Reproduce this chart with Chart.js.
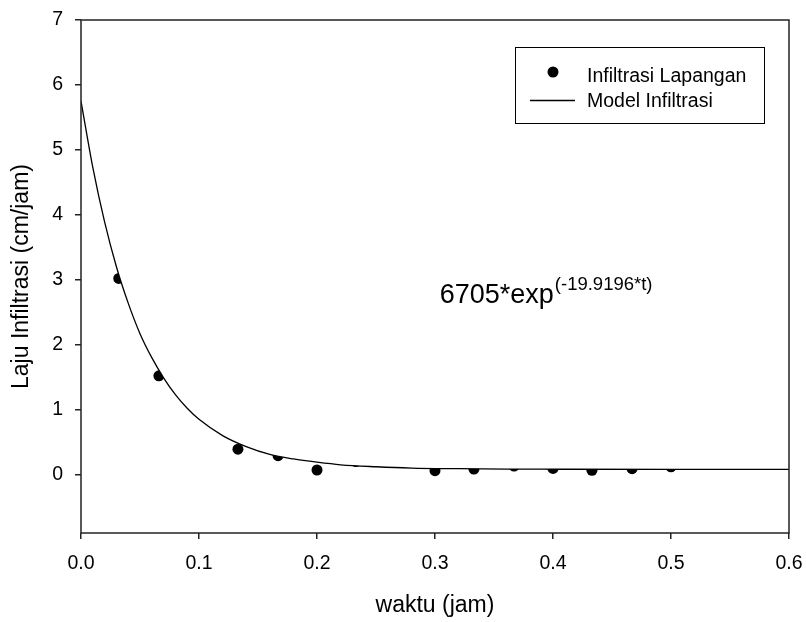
<!DOCTYPE html>
<html>
<head>
<meta charset="utf-8">
<script src="https://cdn.jsdelivr.net/npm/chart.js@4/dist/chart.umd.min.js"></script>
<style>
  html, body { margin: 0; padding: 0; background: #fff; }
  #wrap { width: 806px; height: 622px; }
</style>
</head>
<body>
<div id="wrap"><canvas id="chart" width="806" height="622"></canvas></div>
<script>
// measured field infiltration (waktu in jam, laju in cm/jam)
var fieldTime = [0.032, 0.066, 0.133, 0.167, 0.2, 0.233, 0.3, 0.333, 0.367, 0.4, 0.433, 0.467, 0.5];
var fieldRate = [3.02, 1.52, 0.39, 0.29, 0.07, 0.2, 0.06, 0.085, 0.13, 0.095, 0.065, 0.09, 0.12];

// model curve
var modelTime = [0, 0.01, 0.02, 0.03, 0.04, 0.05, 0.06, 0.07, 0.08, 0.09, 0.1, 0.12, 0.14, 0.16, 0.18, 0.2, 0.22, 0.25, 0.28, 0.32, 0.36, 0.4, 0.5, 0.6];
var modelRate = [5.75, 4.73, 3.89, 3.2, 2.64, 2.17, 1.8, 1.49, 1.23, 1.02, 0.85, 0.6, 0.43, 0.31, 0.24, 0.19, 0.15, 0.12, 0.1, 0.09, 0.084, 0.082, 0.08, 0.08];

var xTicks = [0, 0.1, 0.2, 0.3, 0.4, 0.5, 0.6];
var yTicks = [0, 1, 2, 3, 4, 5, 6, 7];

var labels = ['Infiltrasi Lapangan', 'Model Infiltrasi'];
var eqMain = '6705*exp';
var eqSup = '(-19.9196*t)';

var FONT = "'Liberation Sans', Arial, sans-serif";
var INK = '#000';
var AXIS = '#222';

function toPoints(xs, ys) {
  var pts = [];
  for (var i = 0; i < xs.length; i++) {
    pts.push({x: xs[i], y: ys[i]});
  }
  return pts;
}

function keepTicks(list) {
  return function (scale) {
    scale.ticks = list.map(function (v) { return {value: v}; });
  };
}

// box round the plot, drawn last so the white fill cannot eat it
var framePlugin = {
  id: 'frame',
  afterDatasetsDraw: function (chart) {
    var a = chart.chartArea;
    var ctx = chart.ctx;
    ctx.save();
    ctx.strokeStyle = AXIS;
    ctx.lineWidth = 1.5;
    ctx.strokeRect(a.left, a.top, a.right - a.left, a.bottom - a.top);
    ctx.restore();
  }
};

var equationPlugin = {
  id: 'equation',
  afterDatasetsDraw: function (chart, args, opts) {
    var ctx = chart.ctx;
    var x = chart.scales.x.getPixelForValue(opts.t);
    var y = chart.scales.y.getPixelForValue(opts.rate);
    ctx.save();
    ctx.fillStyle = INK;
    ctx.textBaseline = 'alphabetic';
    ctx.textAlign = 'left';
    ctx.font = '27px ' + FONT;
    ctx.fillText(eqMain, x, y);
    var w = ctx.measureText(eqMain).width;
    ctx.font = '18.5px ' + FONT;
    ctx.fillText(eqSup, x + w + 1, y - 13);
    ctx.restore();
  }
};

var legendPlugin = {
  id: 'boxLegend',
  afterDraw: function (chart) {
    var ctx = chart.ctx;
    var ds = chart.data.datasets;
    ctx.save();
    ctx.strokeStyle = INK;
    ctx.lineWidth = 1;
    ctx.strokeRect(515.5, 47.5, 249, 76);

    ctx.fillStyle = INK;
    ctx.beginPath();
    ctx.arc(553, 72, 5.5, 0, Math.PI * 2);
    ctx.fill();

    ctx.beginPath();
    ctx.lineWidth = 1.3;
    ctx.moveTo(530, 100.5);
    ctx.lineTo(575, 100.5);
    ctx.stroke();

    ctx.font = '19.5px ' + FONT;
    ctx.textAlign = 'left';
    ctx.textBaseline = 'alphabetic';
    ctx.fillText(ds[1].label, 587, 81.5);
    ctx.fillText(ds[0].label, 587, 106.5);
    ctx.restore();
  }
};

var ctx = document.getElementById('chart');
var chart = new Chart(ctx, {
  type: 'line',
  data: {
    datasets: [
      {
        // drawn on top; white fill above the curve hides the dots there, as in the original
        label: labels[1],
        data: toPoints(modelTime, modelRate),
        borderColor: INK,
        borderWidth: 1.3,
        pointRadius: 0,
        cubicInterpolationMode: 'monotone',
        fill: 'end',
        backgroundColor: '#fff',
        order: 0
      },
      {
        label: labels[0],
        data: toPoints(fieldTime, fieldRate),
        showLine: false,
        pointRadius: 5.5,
        pointBackgroundColor: INK,
        pointBorderColor: INK,
        pointBorderWidth: 0,
        order: 1
      }
    ]
  },
  options: {
    responsive: false,
    animation: false,
    devicePixelRatio: 1,
    layout: {padding: {top: 20, right: 17, left: 0, bottom: 0}},
    plugins: {
      legend: {display: false},
      tooltip: {enabled: false},
      equation: {t: 0.304, rate: 2.646}
    },
    scales: {
      x: {
        type: 'linear',
        min: 0,
        max: 0.6,
        afterBuildTicks: keepTicks(xTicks),
        afterFit: function (scale) {
          scale.height = 89;
          scale.paddingLeft = 0;
          scale.paddingRight = 0;
        },
        border: {display: false},
        grid: {display: true, drawOnChartArea: false, drawTicks: true, tickLength: 6, color: AXIS, lineWidth: 1.5},
        ticks: {
          color: INK,
          padding: 13,
          maxRotation: 0,
          font: {family: FONT, size: 19.5},
          callback: function (v) { return Number(v).toFixed(1); }
        },
        title: {display: true, text: 'waktu (jam)', color: INK, font: {family: FONT, size: 23}, padding: {top: 0, bottom: 3}}
      },
      y: {
        type: 'linear',
        min: -0.9,
        max: 7,
        afterBuildTicks: keepTicks(yTicks),
        afterFit: function (scale) {
          scale.width = 81;
          scale.paddingTop = 0;
          scale.paddingBottom = 0;
        },
        border: {display: false},
        grid: {display: true, drawOnChartArea: false, drawTicks: true, tickLength: 6, color: AXIS, lineWidth: 1.5},
        ticks: {
          color: INK,
          padding: 12,
          font: {family: FONT, size: 19.5},
          callback: function (v) { return String(v); }
        },
        title: {display: true, text: 'Laju Infiltrasi (cm/jam)', color: INK, font: {family: FONT, size: 23}, padding: {top: 8, bottom: 0}}
      }
    }
  },
  plugins: [framePlugin, equationPlugin, legendPlugin]
});
</script>
</body>
</html>
